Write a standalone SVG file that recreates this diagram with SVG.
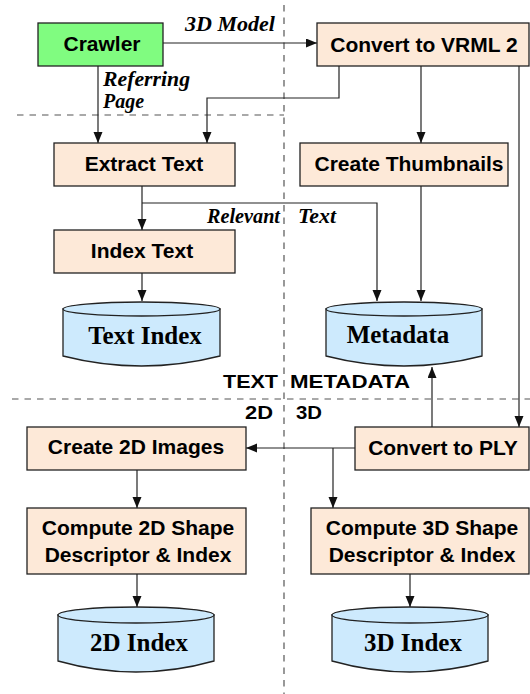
<svg xmlns="http://www.w3.org/2000/svg" width="530" height="694" viewBox="0 0 530 694">
  <style>
    .box { fill: #fde9d8; stroke: #222; stroke-width: 1.3; }
    .crawler { fill: #80fc80; stroke: #222; stroke-width: 1.3; }
    .db { fill: #cdeafd; stroke: #222; stroke-width: 1.3; }
    .lbl { font-family: "Liberation Sans", Arial, sans-serif; font-weight: bold; font-size: 21px; fill: #000; text-anchor: middle; }
    .dbl { font-family: "Liberation Serif", "Times New Roman", serif; font-weight: bold; font-size: 25px; fill: #000; text-anchor: middle; }
    .edge { font-family: "Liberation Serif", "Times New Roman", serif; font-weight: bold; font-style: italic; font-size: 20px; fill: #000; }
    .zone { font-family: "Liberation Sans", Arial, sans-serif; font-weight: bold; font-size: 19px; fill: #000; }
    .wire { fill: none; stroke: #222; stroke-width: 1.2; }
    .sep { fill: none; stroke: #555; stroke-width: 1.2; stroke-dasharray: 6.5 6; }
  </style>
  <defs>
    <marker id="arr" markerUnits="userSpaceOnUse" markerWidth="11" markerHeight="10" refX="11" refY="4.5" orient="auto">
      <path d="M0,0 L11,4.5 L0,9 z" fill="#111"/>
    </marker>
  </defs>
  <rect width="530" height="694" fill="#fff"/>

  <!-- separators between the text / metadata / 2D / 3D zones -->
  <g id="separators">
    <line class="sep" x1="284" y1="5" x2="284" y2="694"/>
    <line class="sep" x1="17" y1="115" x2="284" y2="115"/>
    <line class="sep" x1="12" y1="399" x2="530" y2="399"/>
    <text class="zone" x="223" y="388" textLength="55" lengthAdjust="spacingAndGlyphs">TEXT</text>
    <text class="zone" x="290" y="388" textLength="120" lengthAdjust="spacingAndGlyphs">METADATA</text>
    <text class="zone" x="245" y="419" textLength="28" lengthAdjust="spacingAndGlyphs">2D</text>
    <text class="zone" x="296" y="419" textLength="26" lengthAdjust="spacingAndGlyphs">3D</text>
  </g>

  <!-- connectors -->
  <g id="connectors">
    <line class="wire" x1="163" y1="43" x2="317" y2="43" marker-end="url(#arr)"/>
    <line class="wire" x1="98" y1="66" x2="98" y2="143" marker-end="url(#arr)"/>
    <polyline class="wire" points="339,66 339,98 207,98 207,143" marker-end="url(#arr)"/>
    <line class="wire" x1="421" y1="66" x2="421" y2="143" marker-end="url(#arr)"/>
    <line class="wire" x1="519" y1="66" x2="519" y2="427" marker-end="url(#arr)"/>
    <line class="wire" x1="142" y1="186" x2="142" y2="230" marker-end="url(#arr)"/>
    <polyline class="wire" points="142,203 377,203 377,301" marker-end="url(#arr)"/>
    <line class="wire" x1="421" y1="186" x2="421" y2="301" marker-end="url(#arr)"/>
    <line class="wire" x1="142" y1="273" x2="142" y2="301" marker-end="url(#arr)"/>
    <line class="wire" x1="432" y1="427" x2="432" y2="367" marker-end="url(#arr)"/>
    <line class="wire" x1="355" y1="448" x2="246" y2="448" marker-end="url(#arr)"/>
    <line class="wire" x1="333" y1="448" x2="333" y2="508" marker-end="url(#arr)"/>
    <line class="wire" x1="137" y1="470" x2="137" y2="508" marker-end="url(#arr)"/>
    <line class="wire" x1="137" y1="574" x2="137" y2="607" marker-end="url(#arr)"/>
    <line class="wire" x1="410" y1="574" x2="410" y2="607" marker-end="url(#arr)"/>
    <text class="edge" x="185" y="31" textLength="90" lengthAdjust="spacingAndGlyphs">3D Model</text>
    <text class="edge" x="103" y="86" textLength="87" lengthAdjust="spacingAndGlyphs">Referring</text>
    <text class="edge" x="103" y="108">Page</text>
    <text class="edge" x="207" y="223" textLength="73" lengthAdjust="spacingAndGlyphs">Relevant</text>
    <text class="edge" x="298" y="223" textLength="38" lengthAdjust="spacingAndGlyphs">Text</text>
  </g>

  <g id="crawler">
    <rect class="crawler" x="38" y="23" width="125" height="43"/>
    <text class="lbl" x="102" y="51">Crawler</text>
  </g>
  <g id="convert-vrml">
    <rect class="box" x="317" y="23" width="212" height="43"/>
    <text class="lbl" x="424" y="52">Convert to VRML 2</text>
  </g>
  <g id="extract-text">
    <rect class="box" x="54" y="143" width="181" height="43"/>
    <text class="lbl" x="144" y="171">Extract Text</text>
  </g>
  <g id="create-thumbnails">
    <rect class="box" x="300" y="143" width="208" height="43"/>
    <text class="lbl" x="409" y="171">Create Thumbnails</text>
  </g>
  <g id="index-text">
    <rect class="box" x="54" y="230" width="181" height="43"/>
    <text class="lbl" x="142" y="258">Index Text</text>
  </g>
  <g id="text-index">
    <path class="db" d="M63,309 L63,356 Q141.5,376 220,356 L220,309 z"/>
    <ellipse class="db" cx="141.5" cy="309" rx="78.5" ry="7"/>
    <text class="dbl" x="145" y="344">Text Index</text>
  </g>
  <g id="metadata">
    <path class="db" d="M326,309 L326,356 Q404,376 482,356 L482,309 z"/>
    <ellipse class="db" cx="404" cy="309" rx="78" ry="7"/>
    <text class="dbl" x="398" y="343" font-size="24">Metadata</text>
  </g>
  <g id="create-2d-images">
    <rect class="box" x="27" y="427" width="219" height="43"/>
    <text class="lbl" x="136" y="454">Create 2D Images</text>
  </g>
  <g id="convert-ply">
    <rect class="box" x="355" y="427" width="174" height="43"/>
    <text class="lbl" x="443" y="455">Convert to PLY</text>
  </g>
  <g id="compute-2d">
    <rect class="box" x="27" y="508" width="219" height="66"/>
    <text class="lbl" x="138" y="535">Compute 2D Shape</text>
    <text class="lbl" x="138" y="562">Descriptor &amp; Index</text>
  </g>
  <g id="compute-3d">
    <rect class="box" x="311" y="508" width="218" height="66"/>
    <text class="lbl" x="422" y="535">Compute 3D Shape</text>
    <text class="lbl" x="422" y="562">Descriptor &amp; Index</text>
  </g>
  <g id="index-2d">
    <path class="db" d="M58,615 L58,661 Q136,683 214,661 L214,615 z"/>
    <ellipse class="db" cx="136" cy="615" rx="78" ry="8"/>
    <text class="dbl" x="139" y="651">2D Index</text>
  </g>
  <g id="index-3d">
    <path class="db" d="M332,615 L332,661 Q410,683 488,661 L488,615 z"/>
    <ellipse class="db" cx="410" cy="615" rx="78" ry="8"/>
    <text class="dbl" x="413" y="651">3D Index</text>
  </g>
</svg>
